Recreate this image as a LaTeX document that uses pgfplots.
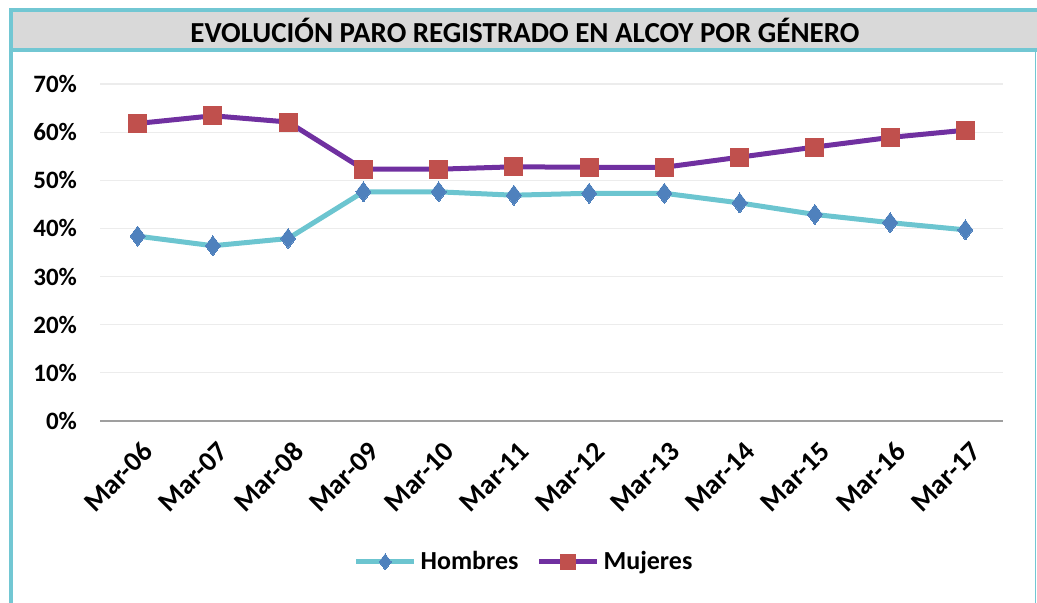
\documentclass[border=0pt]{standalone}
\usepackage{fontspec}
\setmainfont{Carlito}
\usepackage{pgfplots}
\pgfplotsset{compat=1.18}

\definecolor{frameteal}{HTML}{72C7D3}
\definecolor{bandgrey}{HTML}{D9D9D9}
\definecolor{hline}{HTML}{6CC5D0}
\definecolor{hmark}{HTML}{4F81BD}
\definecolor{mline}{HTML}{7030A0}
\definecolor{mmark}{HTML}{C0504D}

\begin{document}
\begin{tikzpicture}
  % page = 1037 x 603 px, 1px = 0.5pt
  \useasboundingbox (0,0) rectangle (518.5pt,301.5pt);
  % title band and frame
  \fill[bandgrey] (5.5pt,276.5pt) rectangle (518.5pt,296.5pt);
  \draw[frameteal, line width=2pt] (5.5pt,0pt) -- (5.5pt,296.5pt) -- (518.5pt,296.5pt);
  \draw[frameteal, line width=2pt] (5.5pt,276.5pt) -- (518.5pt,276.5pt);
  \draw[frameteal, line width=0.8pt] (517.8pt,0pt) -- (517.8pt,276.5pt);
  \node[font=\fontsize{14.5}{16}\selectfont\bfseries] at (262.5pt,286.5pt)
    {EVOLUCIÓN PARO REGISTRADO EN ALCOY POR GÉNERO};

  \begin{axis}[
      at={(50pt,91pt)}, anchor=south west,
      scale only axis,
      width=451.5pt, height=168.5pt,
      xmin=-0.5, xmax=11.5,
      ymin=0, ymax=70,
      xtick={0,...,11},
      xticklabels={Mar-06,Mar-07,Mar-08,Mar-09,Mar-10,Mar-11,Mar-12,Mar-13,Mar-14,Mar-15,Mar-16,Mar-17},
      ytick={0,10,...,70},
      yticklabels={0\%,10\%,20\%,30\%,40\%,50\%,60\%,70\%},
      major tick length=0pt,
      axis lines*=left,
      x axis line style={draw=gray!75, line width=1pt},
      y axis line style={draw=none},
      ymajorgrids,
      grid style={draw=gray!15, line width=0.6pt},
      yticklabel style={font=\fontsize{12.5}{14}\selectfont\bfseries, xshift=-8pt},
      xticklabel style={font=\fontsize{14}{16}\selectfont\bfseries,
        rotate=45, anchor=east, yshift=-13pt, xshift=-2pt},
      legend style={at={(0.4707,-0.418)}, anchor=center, draw=none,
        font=\fontsize{13}{15}\selectfont\bfseries, legend columns=2,
        /tikz/every even column/.append style={column sep=7pt},
        inner sep=0pt},
      legend image code/.code={
        \draw[mark repeat=2, mark phase=2, /tikz/every mark/.append style={scale=0.8}]
          plot coordinates {(0pt,0pt) (14.5pt,0pt) (29pt,0pt)};},
      clip=false,
    ]
    \addplot[hline, line width=2.5pt, mark=diamond*,
      mark options={fill=hmark, draw=hmark, line width=0pt}, mark size=5pt]
      coordinates {
      (0,38.4)(1,36.4)(2,37.9)(3,47.6)(4,47.6)(5,46.9)
      (6,47.3)(7,47.3)(8,45.3)(9,42.9)(10,41.2)(11,39.7)
    };
    \addlegendentry{Hombres}
    \addplot[mline, line width=2.5pt, mark=square*,
      mark options={fill=mmark, draw=mmark, line width=0pt}, mark size=4.5pt]
      coordinates {
      (0,61.8)(1,63.4)(2,62.1)(3,52.3)(4,52.3)(5,52.8)
      (6,52.7)(7,52.7)(8,54.8)(9,56.9)(10,58.9)(11,60.4)
    };
    \addlegendentry{Mujeres}
  \end{axis}
\end{tikzpicture}
\end{document}
